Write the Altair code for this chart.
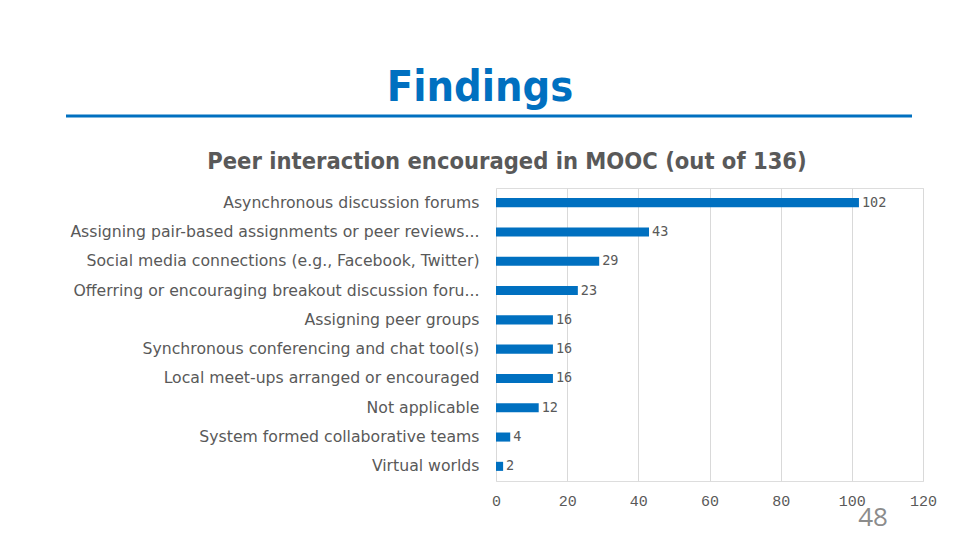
import altair as alt
import pandas as pd

categories = [
    "Asynchronous discussion forums",
    "Assigning pair-based assignments or peer reviews...",
    "Social media connections (e.g., Facebook, Twitter)",
    "Offerring or encouraging breakout discussion foru...",
    "Assigning peer groups",
    "Synchronous conferencing and chat tool(s)",
    "Local meet-ups arranged or encouraged",
    "Not applicable",
    "System formed collaborative teams",
    "Virtual worlds",
]
values = [102, 43, 29, 23, 16, 16, 16, 12, 4, 2]
x_ticks = [0, 20, 40, 60, 80, 100, 120]

title_text = "Findings"
subtitle_text = "Peer interaction encouraged in MOOC (out of 136)"
page_number = "48"

df = pd.DataFrame({"category": categories, "value": values})

BLUE = "#0070C0"
GRAY = "#595959"

W, H = 427, 293

y_enc = alt.Y(
    "category:N",
    sort=categories,
    scale=alt.Scale(paddingInner=0.69, paddingOuter=0.345),
    axis=alt.Axis(
        title=None, ticks=False, domain=False, labelPadding=17,
        labelFont="DejaVu Sans", labelFontSize=15.7, labelColor=GRAY,
        labelLimit=500,
    ),
)
x_enc = alt.X(
    "value:Q",
    scale=alt.Scale(domain=[0, 120], nice=False),
    axis=alt.Axis(
        title=None, values=x_ticks, ticks=False, domain=False,
        grid=True, gridColor="#D9D9D9", gridWidth=1,
        labelFont="Liberation Mono", labelFontSize=15, labelColor=GRAY,
        labelPadding=12, labelFlush=False, labelOverlap=False,
    ),
)

bars = alt.Chart(df).mark_bar(color=BLUE).encode(x=x_enc, y=y_enc)

labels = alt.Chart(df).mark_text(
    align="left", baseline="middle", dx=3, font="DejaVu Sans Mono",
    fontSize=13.5, color=GRAY,
).encode(x="value:Q", y=alt.Y("category:N", sort=categories), text="value:Q")

deco_df = pd.DataFrame({"t": [title_text]})
title = alt.Chart(deco_df).mark_text(
    font="DejaVu Sans Condensed", fontWeight="bold", fontSize=43,
    color=BLUE, align="center", baseline="alphabetic",
).encode(x=alt.value(-16), y=alt.value(-87), text="t:N")

sub_df = pd.DataFrame({"t": [subtitle_text]})
subtitle = alt.Chart(sub_df).mark_text(
    font="DejaVu Sans Condensed", fontWeight="bold", fontSize=23.5,
    color=GRAY, align="center", baseline="alphabetic",
).encode(x=alt.value(11), y=alt.value(-19), text="t:N")

line = alt.Chart(deco_df).mark_rule(color=BLUE, strokeWidth=3).encode(
    x=alt.value(-430), x2=alt.value(416), y=alt.value(-72)
)

pg_df = pd.DataFrame({"t": [page_number]})
page = alt.Chart(pg_df).mark_text(
    font="Open Sans", fontSize=26, color="#8C8C8C", align="center",
    baseline="middle",
).encode(x=alt.value(377), y=alt.value(330), text="t:N")

chart = alt.layer(bars, labels, title, subtitle, line, page).properties(
    width=W, height=H,
    autosize=alt.AutoSizeParams(type="none"),
    padding={"left": 488, "top": 180, "right": 29, "bottom": 60},
).configure_view(stroke=None).configure(background="white")

chart.save("out.html", embed_options={"renderer": "svg", "actions": False})
